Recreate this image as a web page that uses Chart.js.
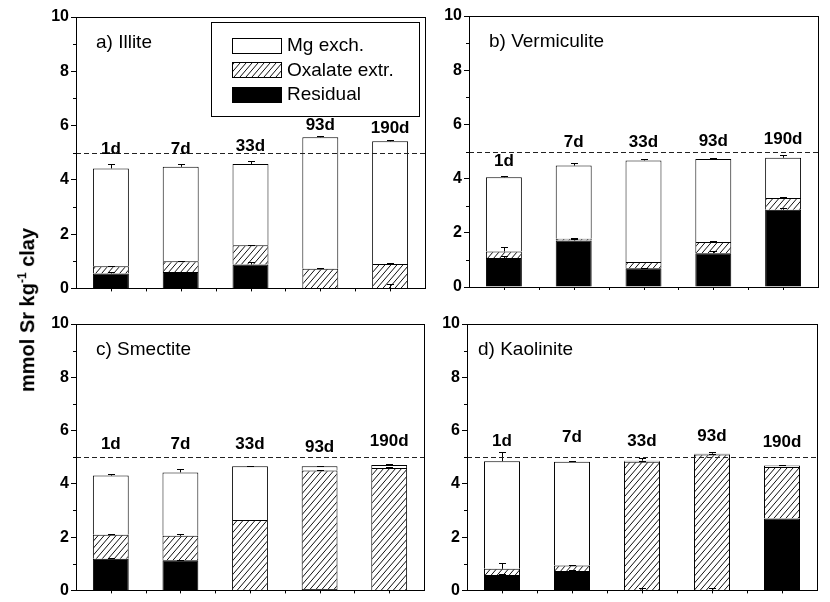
<!DOCTYPE html>
<html>
<head>
<meta charset="utf-8">
<script src="https://cdn.jsdelivr.net/npm/chart.js@4/dist/chart.umd.min.js"></script>
<style>
  html, body { margin: 0; padding: 0; background: #fff; }
  #wrap { position: relative; width: 830px; height: 602px; overflow: hidden; background: #fff; }
  canvas { position: absolute; }
  #ytitle {
    position: absolute; left: 27px; top: 310px; white-space: nowrap;
    font: bold 20px "Liberation Sans", Arial, sans-serif; color: #000;
    transform: translate(-50%, -50%) rotate(-90deg);
  }
  #ytitle sup { font-size: 12px; }
</style>
</head>
<body>
<div id="wrap">
  <canvas id="cA" width="430" height="300" style="left:0;top:0"></canvas>
  <canvas id="cB" width="415" height="300" style="left:415px;top:0"></canvas>
  <canvas id="cC" width="430" height="302" style="left:0;top:300px"></canvas>
  <canvas id="cD" width="415" height="302" style="left:415px;top:300px"></canvas>
  <div id="ytitle">mmol Sr kg<sup>-1</sup> clay</div>
</div>
<script>
// ---------- DATA ----------
const days = ['1d', '7d', '33d', '93d', '190d'];
const yTicks = [0, 2, 4, 6, 8, 10];
const seriesNames = ['Mg exch.', 'Oxalate extr.', 'Residual'];
const referenceLevel = 5;

// a) Illite (segment values, mmol Sr/kg clay)
const illiteResidual = [0.55, 0.60, 0.88, 0.00, 0.00];
const illiteOxalate  = [0.27, 0.40, 0.71, 0.72, 0.90];
const illiteMg       = [3.60, 3.48, 2.99, 4.85, 4.52];
const illiteErrResidual = [0.04, 0.02, 0.10, 0.03, 0.18];
const illiteErrOxalate  = [0.02, 0.02, 0.02, 0.02, 0.03];
const illiteErrMg       = [0.16, 0.09, 0.11, 0.03, 0.03];
const illiteLabelAt     = [4.96, 4.96, 5.08, 5.84, 5.74];

// b) Vermiculite
const vermResidual = [1.07, 1.72, 0.69, 1.25, 2.85];
const vermOxalate  = [0.24, 0.06, 0.23, 0.41, 0.43];
const vermMg       = [2.74, 2.70, 3.75, 3.06, 1.49];
const vermErrResidual = [0.08, 0.05, 0.02, 0.06, 0.06];
const vermErrOxalate  = [0.16, 0.03, 0.02, 0.02, 0.03];
const vermErrMg       = [0.06, 0.11, 0.05, 0.03, 0.11];
const vermLabelAt     = [4.45, 5.16, 5.18, 5.22, 5.28];

// c) Smectite
const smecResidual = [1.19, 1.13, 0.00, 0.05, 0.00];
const smecOxalate  = [0.90, 0.92, 2.64, 4.45, 4.59];
const smecMg       = [2.22, 2.38, 2.02, 0.16, 0.12];
const smecErrResidual = [0.02, 0.02, 0.00, 0.00, 0.00];
const smecErrOxalate  = [0.04, 0.05, 0.02, 0.03, 0.06];
const smecErrMg       = [0.06, 0.11, 0.02, 0.01, 0.02];
const smecLabelAt     = [5.30, 5.30, 5.30, 5.21, 5.43];

// d) Kaolinite
const kaolResidual = [0.58, 0.73, 0.00, 0.00, 2.70];
const kaolOxalate  = [0.23, 0.20, 4.83, 5.10, 1.93];
const kaolMg       = [4.04, 3.90, 0.04, 0.03, 0.06];
const kaolErrResidual = [0.02, 0.02, 0.10, 0.10, 0.00];
const kaolErrOxalate  = [0.20, 0.02, 0.02, 0.02, 0.02];
const kaolErrMg       = [0.35, 0.02, 0.10, 0.06, 0.03];
const kaolLabelAt     = [5.42, 5.56, 5.42, 5.62, 5.38];

// ---------- STYLE HELPERS ----------
const FONT = '"Liberation Sans", Arial, Helvetica, sans-serif';

function makeHatch() {
  const c = document.createElement('canvas');
  c.width = 6; c.height = 7;
  const g = c.getContext('2d');
  g.fillStyle = '#fff'; g.fillRect(0, 0, 6, 7);
  g.strokeStyle = '#000'; g.lineWidth = 0.95;
  g.beginPath();
  g.moveTo(0, 7); g.lineTo(6, 0);
  g.moveTo(-1, 1.17); g.lineTo(1, -1.17);
  g.moveTo(5, 8.17); g.lineTo(7, 5.83);
  g.stroke();
  return g.createPattern(c, 'repeat');
}

const panelPlugin = {
  id: 'panelDeco',
  afterDatasetsDraw(chart) {
    const o = chart.options.plugins.panelDeco;
    const ctx = chart.ctx;
    const ca = chart.chartArea;
    const y = chart.scales.y, x = chart.scales.x;
    ctx.save();
    // error bars
    ctx.strokeStyle = '#000'; ctx.lineWidth = 1;
    const nD = chart.data.datasets.length;
    for (let j = 0; j < days.length; j++) {
      let cum = 0;
      for (let d = 0; d < nD; d++) {
        const ds = chart.data.datasets[d];
        cum += ds.data[j];
        const e = ds.err[j];
        if (e > 0) {
          const meta = chart.getDatasetMeta(d);
          const cx = Math.round(meta.data[j].x) + 0.5;
          const y0 = y.getPixelForValue(cum);
          const y1 = Math.round(y.getPixelForValue(cum + e)) + 0.5;
          ctx.beginPath();
          ctx.moveTo(cx, y0); ctx.lineTo(cx, y1);
          ctx.moveTo(cx - 3.5, y1); ctx.lineTo(cx + 3.5, y1);
          ctx.stroke();
        }
      }
    }
    // dashed reference line
    ctx.setLineDash([5, 3]);
    ctx.strokeStyle = '#222';
    const yr = Math.round(y.getPixelForValue(referenceLevel)) + 0.5;
    ctx.beginPath(); ctx.moveTo(ca.left, yr); ctx.lineTo(ca.right, yr); ctx.stroke();
    ctx.setLineDash([]);
    // frame
    ctx.strokeStyle = '#000';
    ctx.strokeRect(Math.round(ca.left) + 0.5, Math.round(ca.top) + 0.5,
                   Math.round(ca.right - ca.left), Math.round(ca.bottom - ca.top));
    // minor y ticks
    ctx.beginPath();
    for (let v = 1; v < 10; v += 2) {
      const py = Math.round(y.getPixelForValue(v)) + 0.5;
      ctx.moveTo(ca.left - 3, py); ctx.lineTo(ca.left, py);
    }
    // x ticks at centres and boundaries
    const bw = (ca.right - ca.left) / days.length;
    for (let j = 0; j < days.length; j++) {
      const cx = Math.round(x.getPixelForValue(j)) + 0.5;
      ctx.moveTo(cx, ca.bottom); ctx.lineTo(cx, ca.bottom + 3);
      if (j > 0) {
        const bx = Math.round(ca.left + bw * j) + 0.5;
        ctx.moveTo(bx, ca.bottom); ctx.lineTo(bx, ca.bottom + 3);
      }
    }
    ctx.stroke();
    // day labels
    ctx.fillStyle = '#000';
    ctx.font = 'bold 17px ' + FONT;
    ctx.textAlign = 'center'; ctx.textBaseline = 'alphabetic';
    for (let j = 0; j < days.length; j++) {
      ctx.fillText(days[j], x.getPixelForValue(j), y.getPixelForValue(o.labelAt[j]));
    }
    // panel title
    ctx.font = '19px ' + FONT;
    ctx.textAlign = 'left'; ctx.textBaseline = 'middle';
    ctx.fillText(o.title, ca.left + o.titleDx, ca.top + 26);
    // legend
    if (o.legend) {
      const L = o.legend;
      ctx.strokeRect(L.x + 0.5, L.y + 0.5, L.w, L.h);
      const fills = ['#fff', chart.data.datasets[1].backgroundColor, '#000'];
      ctx.font = '19px ' + FONT;
      for (let i = 0; i < 3; i++) {
        const cy = L.y + 23 + i * 24.5;
        ctx.fillStyle = fills[i];
        ctx.fillRect(L.x + 21, Math.round(cy - 7.5), 49, 15);
        ctx.strokeStyle = '#000';
        ctx.strokeRect(L.x + 21.5, Math.round(cy - 7.5) + 0.5, 49, 15);
        ctx.fillStyle = '#000';
        ctx.fillText(seriesNames[i], L.x + 76, cy + 1);
      }
    }
    ctx.restore();
  }
};

function makeChart(id, res, oxa, mg, eRes, eOxa, eMg, labelAt, title, lay, titleDx, legend) {
  const hatch = makeHatch();
  const common = { borderColor: '#000', borderWidth: 1, borderSkipped: 'start',
                   barPercentage: 0.515, categoryPercentage: 1.0 };
  return new Chart(document.getElementById(id), {
    type: 'bar',
    data: {
      labels: days,
      datasets: [
        Object.assign({ label: seriesNames[2], data: res, err: eRes, backgroundColor: '#000' }, common),
        Object.assign({ label: seriesNames[1], data: oxa, err: eOxa, backgroundColor: hatch }, common),
        Object.assign({ label: seriesNames[0], data: mg, err: eMg, backgroundColor: '#fff' }, common)
      ]
    },
    options: {
      responsive: false, animation: false, devicePixelRatio: 1,
      layout: { padding: { left: 0, top: lay.top, right: lay.right, bottom: lay.bottom } },
      scales: {
        x: { type: 'category', stacked: true, display: false, offset: true },
        y: {
          stacked: true, min: 0, max: 10,
          afterBuildTicks(s) { s.ticks = yTicks.map(v => ({ value: v })); },
          afterFit(s) { s.width = lay.left; },
          ticks: { color: '#000', padding: 2, font: { family: FONT, size: 16, weight: 'bold' } },
          grid: { drawOnChartArea: false, tickLength: 5, color: '#000' },
          border: { display: true, color: '#000' }
        }
      },
      plugins: {
        legend: { display: false }, tooltip: { enabled: false },
        panelDeco: { labelAt, title, titleDx, legend }
      }
    },
    plugins: [panelPlugin]
  });
}

makeChart('cA', illiteResidual, illiteOxalate, illiteMg, illiteErrResidual, illiteErrOxalate, illiteErrMg,
          illiteLabelAt, 'a) Illite', { left: 76, top: 17, right: 5, bottom: 11 }, 20,
          { x: 211, y: 22, w: 208, h: 94 });
makeChart('cB', vermResidual, vermOxalate, vermMg, vermErrResidual, vermErrOxalate, vermErrMg,
          vermLabelAt, 'b) Vermiculite', { left: 54, top: 16, right: 12, bottom: 13 }, 20, null);
makeChart('cC', smecResidual, smecOxalate, smecMg, smecErrResidual, smecErrOxalate, smecErrMg,
          smecLabelAt, 'c) Smectite', { left: 76, top: 24, right: 6, bottom: 6 }, 20, null);
makeChart('cD', kaolResidual, kaolOxalate, kaolMg, kaolErrResidual, kaolErrOxalate, kaolErrMg,
          kaolLabelAt, 'd) Kaolinite', { left: 52, top: 24, right: 13, bottom: 7 }, 11, null);
</script>
</body>
</html>
